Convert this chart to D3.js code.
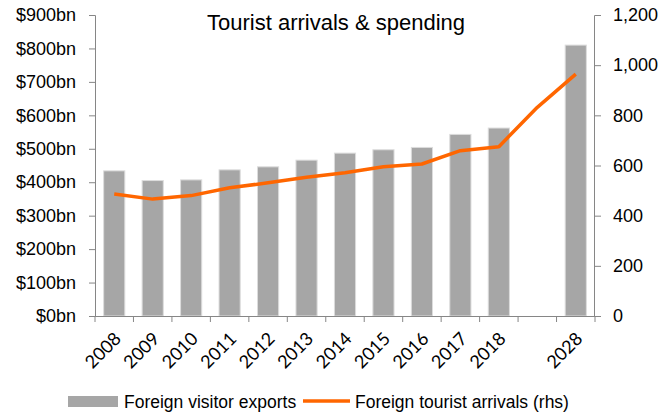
<!DOCTYPE html>
<html>
<head>
<meta charset="utf-8">
<script src="https://cdn.jsdelivr.net/npm/d3@7"></script>
<style>
  html, body { margin: 0; padding: 0; background: #fff; }
  svg { display: block; }
  text { font-family: "Liberation Sans", Arial, sans-serif; fill: #000; }
</style>
</head>
<body>
<svg id="chart" width="661" height="412"></svg>
<script>
// Years on the category axis; the empty slot stands for the 2019-2027 gap
const categories = ["2008", "2009", "2010", "2011", "2012", "2013", "2014", "2015", "2016", "2017", "2018", "", "2028"];
// Foreign visitor exports, US$ bn (left axis); no bar in the gap slot
const exportsBn = [434, 405, 407, 437, 446, 466, 487, 497, 504, 543, 562, null, 810];
// Foreign tourist arrivals, millions (right axis)
const arrivals = [486, 466, 480, 511, 531, 553, 571, 595, 606, 659, 675, 832, 964];
const leftTicks = [0, 100, 200, 300, 400, 500, 600, 700, 800, 900];
const rightTicks = [0, 200, 400, 600, 800, 1000, 1200];

const svg = d3.select("#chart");
const plot = { left: 95, right: 595, top: 15, bottom: 316 };
const axisColor = "#868686";

const x = d3.scaleBand().domain(categories).range([plot.left, plot.right]).paddingInner(0.45).paddingOuter(0.225);
const yL = d3.scaleLinear().domain([0, 900]).range([plot.bottom, plot.top]);
const yR = d3.scaleLinear().domain([0, 1200]).range([plot.bottom, plot.top]);

// Bars
svg.append("g").selectAll("rect")
  .data(categories.map((c, i) => ({ c, v: exportsBn[i] })).filter(d => d.v != null))
  .join("rect")
  .attr("x", d => x(d.c))
  .attr("width", x.bandwidth())
  .attr("y", d => yL(d.v))
  .attr("height", d => yL(0) - yL(d.v))
  .attr("fill", "#a6a6a6")
  .attr("stroke", "#dcdcdc")
  .attr("stroke-width", 1);

// Left axis
const gL = svg.append("g").attr("transform", `translate(${plot.left},0)`)
  .call(d3.axisLeft(yL).tickValues(leftTicks).tickSize(6).tickPadding(13).tickFormat(d => `$${d}bn`));
// Right axis
const gR = svg.append("g").attr("transform", `translate(${plot.right},0)`)
  .call(d3.axisRight(yR).tickValues(rightTicks).tickSize(6).tickPadding(12).tickFormat(d3.format(",")));

// Bottom axis: ticks sit on the category boundaries
const bounds = categories.map(c => x(c) - x.step() * x.paddingInner() / 2);
bounds.push(plot.right);
const gB = svg.append("g");
gB.append("line").attr("x1", plot.left).attr("x2", plot.right)
  .attr("y1", plot.bottom + 0.5).attr("y2", plot.bottom + 0.5).attr("stroke", axisColor);
gB.selectAll("line.tick").data(bounds).join("line").attr("class", "tick")
  .attr("x1", d => d).attr("x2", d => d)
  .attr("y1", plot.bottom).attr("y2", plot.bottom + 6).attr("stroke", axisColor);
gB.selectAll("text").data(categories).join("text")
  .attr("transform", d => `translate(${x(d) + x.bandwidth() / 2 - 1},${plot.bottom + 15}) rotate(-45)`)
  .attr("text-anchor", "end")
  .attr("dy", "0.7em")
  .style("font-family", "Lato, 'Open Sans', sans-serif")
  .style("font-size", "18px")
  .text(d => d);

[gL, gR].forEach(g => {
  g.select(".domain").attr("stroke", axisColor);
  g.selectAll(".tick line").attr("stroke", axisColor);
  g.selectAll(".tick text").style("font-size", "18px").style("font-family", "'Liberation Sans', Arial, sans-serif").attr("fill", "#000");
});
gL.select(".domain").attr("d", `M-6,${plot.top + 0.5}H0.5V${plot.bottom + 0.5}H-6`);
gR.select(".domain").attr("d", `M6,${plot.top + 0.5}H-0.5V${plot.bottom + 0.5}H6`);

// Arrivals line
const line = d3.line()
  .x((d, i) => x(categories[i]) + x.bandwidth() / 2)
  .y(d => yR(d));
svg.append("path").datum(arrivals)
  .attr("d", line)
  .attr("fill", "none")
  .attr("stroke", "#ff6600")
  .attr("stroke-width", 3.5)
  .attr("stroke-linejoin", "round");

// Title
svg.append("text").attr("x", 336).attr("y", 30).attr("text-anchor", "middle")
  .style("font-size", "22px").text("Tourist arrivals & spending");

// Legend
const lg = svg.append("g");
lg.append("rect").attr("x", 68).attr("y", 396).attr("width", 50).attr("height", 11).attr("fill", "#a6a6a6");
lg.append("text").attr("x", 124).attr("y", 408).style("font-size", "17.5px").text("Foreign visitor exports");
lg.append("line").attr("x1", 303).attr("x2", 350).attr("y1", 401).attr("y2", 401)
  .attr("stroke", "#ff6600").attr("stroke-width", 3.5);
lg.append("text").attr("x", 355).attr("y", 408).style("font-size", "17.5px").text("Foreign tourist arrivals (rhs)");
</script>
</body>
</html>
